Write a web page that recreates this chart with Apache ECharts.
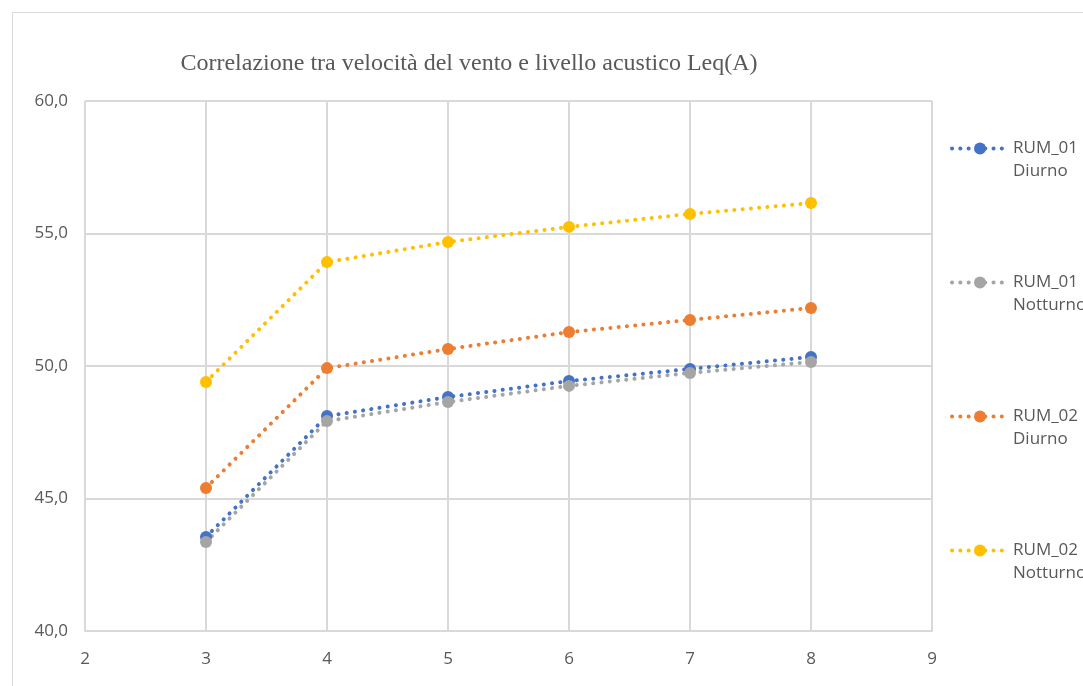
<!DOCTYPE html>
<html><head><meta charset="utf-8">
<script src="https://cdn.jsdelivr.net/npm/echarts@6/dist/echarts.min.js"></script>
<style>html,body{margin:0;padding:0;background:#fff}#c{width:1083px;height:686px}</style>
</head><body><div id="c"></div>
<script>
const xValues = [3, 4, 5, 6, 7, 8];
const seriesNames = ['RUM_01 Diurno', 'RUM_01 Notturno', 'RUM_02 Diurno', 'RUM_02 Notturno'];
const rum01Diurno = [43.55, 48.11, 48.83, 49.43, 49.89, 50.34];
const rum01Notturno = [43.36, 47.92, 48.64, 49.25, 49.74, 50.15];
const rum02Diurno = [45.4, 49.92, 50.64, 51.28, 51.74, 52.19];
const rum02Notturno = [49.4, 53.92, 54.68, 55.25, 55.74, 56.15];
const colors = ['#4472C4', '#A5A5A5', '#ED7D31', '#FFC000'];
const allData = [rum01Diurno, rum01Notturno, rum02Diurno, rum02Notturno];

const chart = echarts.init(document.getElementById('c'));
chart.setOption({
  animation: false,
  title: {
    text: 'Correlazione tra velocità del vento e livello acustico Leq(A)',
    left: 464, top: 47, textAlign: 'center',
    textStyle: {fontFamily: 'Liberation Serif', fontSize: 24, fontWeight: 'normal', color: '#595959'}
  },
  graphic: [{type: 'rect', shape: {x: 12.5, y: 12.5, width: 1100, height: 700}, style: {fill: 'none', stroke: '#d9d9d9', lineWidth: 1}, silent: true}],
  legend: {
    orient: 'vertical', left: 945, top: 109, itemGap: 65, itemWidth: 56, itemHeight: 15,
    formatter: n => ' \n' + n.replace(' ', '\n'),
    textStyle: {fontFamily: 'Open Sans', fontSize: 17, color: '#595959', lineHeight: 23},
    lineStyle: {width: 4},
    data: seriesNames
  },
  grid: {left: 85, right: 151, top: 101, bottom: 55},
  xAxis: {
    type: 'value', min: 2, max: 9, interval: 1,
    axisLine: {show: true, lineStyle: {color: '#d9d9d9', width: 2}},
    axisTick: {show: false},
    splitLine: {show: true, lineStyle: {color: '#d9d9d9', width: 2}},
    axisLabel: {margin: 20, fontFamily: 'Open Sans', fontSize: 17, color: '#595959'}
  },
  yAxis: {
    type: 'value', min: 40, max: 60, interval: 5,
    axisLine: {show: false}, axisTick: {show: false},
    splitLine: {show: true, lineStyle: {color: '#d9d9d9', width: 2}},
    axisLabel: {margin: 17, fontFamily: 'Open Sans', fontSize: 17, color: '#595959',
      formatter: v => v.toFixed(1).replace('.', ',')}
  },
  series: seriesNames.map((n, i) => ({
    name: n, type: 'line',
    data: xValues.map((x, j) => [x, allData[i][j]]),
    symbol: 'circle', symbolSize: 12,
    itemStyle: {color: colors[i]},
    lineStyle: {color: colors[i], width: 4, type: [0.1, 8.2], cap: 'round'}
  }))
});
</script></body></html>
